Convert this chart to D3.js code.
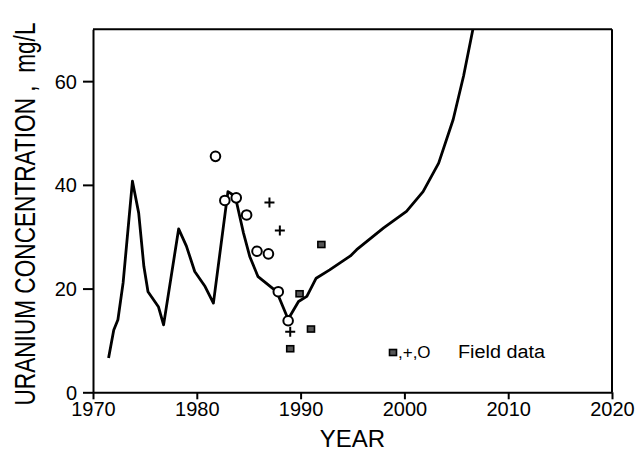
<!DOCTYPE html>
<html>
<head>
<meta charset="utf-8">
<script src="https://cdn.jsdelivr.net/npm/d3@7"></script>
<style>
  html, body { margin: 0; padding: 0; background: #fff; }
  svg { display: block; font-family: "Liberation Sans", Arial, Helvetica, sans-serif; }
</style>
</head>
<body>
<svg id="chart" width="640" height="453"></svg>
<script>
// ---- data ----
const modelYears  = [1971.5, 1972.0, 1972.4, 1972.9, 1973.8, 1974.4, 1974.9, 1975.3, 1976.3, 1976.8, 1978.25, 1979.0, 1979.8, 1980.8, 1981.6, 1983.0, 1983.7, 1984.5, 1985.1, 1985.9, 1987.7, 1988.8, 1989.8, 1990.6, 1991.5, 1992.8, 1994.8, 1995.4, 1998.0, 2000.2, 2001.8, 2003.3, 2004.7, 2005.7, 2006.6];
const modelValues = [6.6, 12.0, 14.0, 21.1, 40.7, 34.6, 24.3, 19.4, 16.5, 13.0, 31.5, 28.2, 23.3, 20.4, 17.2, 38.7, 37.8, 30.7, 26.2, 22.3, 19.4, 14.1, 17.5, 18.5, 22.0, 23.6, 26.3, 27.5, 31.7, 34.9, 38.7, 44.2, 52.6, 61.0, 70.0];

const circleYears  = [1981.8, 1982.7, 1983.8, 1984.8, 1985.8, 1986.9, 1987.85, 1988.8];
const circleValues = [45.5, 37.0, 37.5, 34.2, 27.2, 26.7, 19.4, 13.8];
const crossYears   = [1987.0, 1988.0, 1989.0];
const crossValues  = [36.6, 31.2, 11.7];
const squareYears  = [1989.9, 1991.0, 1989.0, 1992.0];
const squareValues = [19.0, 12.2, 8.4, 28.5];

const xTicks = [1970, 1980, 1990, 2000, 2010, 2020];
const yTicks = [0, 20, 40, 60];
const xTitle = "YEAR";
const yTitle = "URANIUM CONCENTRATION ,  mg/L";
const legendSymbols = ",+,O";
const legendLabel = "Field data";

// ---- layout ----
const svg = d3.select("#chart");
const x = d3.scaleLinear().domain([1970, 2020]).range([93, 612]);
const y = d3.scaleLinear().domain([0, 70]).range([392.3, 29.3]);

svg.append("defs").append("clipPath").attr("id", "plotclip")
  .append("rect")
  .attr("x", x(1970)).attr("y", y(70))
  .attr("width", x(2020) - x(1970)).attr("height", y(0) - y(70));

// frame: top and right
svg.append("line")
  .attr("x1", x(1970)).attr("x2", x(2020)).attr("y1", y(70)).attr("y2", y(70))
  .attr("stroke", "#000").attr("stroke-width", 2);
svg.append("line")
  .attr("x1", x(2020)).attr("x2", x(2020)).attr("y1", y(70)).attr("y2", y(0))
  .attr("stroke", "#000").attr("stroke-width", 2);

// axes
const xAxis = svg.append("g")
  .attr("transform", `translate(0,${y(0)})`)
  .call(d3.axisBottom(x).tickValues(xTicks).tickSize(7).tickSizeOuter(0).tickPadding(3).tickFormat(d3.format("d")));
const yAxis = svg.append("g")
  .attr("transform", `translate(${x(1970)},0)`)
  .call(d3.axisLeft(y).tickValues(yTicks).tickSize(10).tickSizeOuter(0).tickPadding(6));

[xAxis, yAxis].forEach(g => {
  g.select(".domain").attr("stroke", "#000").attr("stroke-width", 2);
  g.selectAll(".tick line").attr("stroke", "#000").attr("stroke-width", 2);
  g.selectAll(".tick text").attr("fill", "#000")
    .style("font-family", '"Liberation Sans", Arial, sans-serif')
    .style("font-size", "20px");
});
yAxis.selectAll(".tick text").attr("dy", "0.35em");

// titles
svg.append("text")
  .attr("x", (x(1970) + x(2020)) / 2).attr("y", 447)
  .attr("text-anchor", "middle")
  .style("font-size", "24px")
  .text(xTitle);

svg.append("text")
  .attr("transform", `translate(35,${214}) rotate(-90)`)
  .attr("text-anchor", "middle")
  .attr("textLength", 383).attr("lengthAdjust", "spacingAndGlyphs")
  .style("font-size", "29px")
  .style("white-space", "pre")
  .text(yTitle);

// model curve
const line = d3.line().x(d => x(d[0])).y(d => y(d[1])).curve(d3.curveLinear);
svg.append("path")
  .datum(modelYears.map((yr, i) => [yr, modelValues[i]]))
  .attr("clip-path", "url(#plotclip)")
  .attr("fill", "none").attr("stroke", "#000").attr("stroke-width", 2.8)
  .attr("stroke-linejoin", "round")
  .attr("d", line);

// field data: circles
svg.append("g").selectAll("circle")
  .data(circleYears.map((yr, i) => [yr, circleValues[i]]))
  .join("circle")
  .attr("cx", d => x(d[0])).attr("cy", d => y(d[1])).attr("r", 4.8)
  .attr("fill", "#fff").attr("stroke", "#000").attr("stroke-width", 2);

// crosses
svg.append("g").selectAll("path")
  .data(crossYears.map((yr, i) => [yr, crossValues[i]]))
  .join("path")
  .attr("transform", d => `translate(${x(d[0])},${y(d[1])})`)
  .attr("d", "M-5,0H5M0,-5V5")
  .attr("stroke", "#000").attr("stroke-width", 2);

// squares
svg.append("g").selectAll("rect")
  .data(squareYears.map((yr, i) => [yr, squareValues[i]]))
  .join("rect")
  .attr("x", d => x(d[0]) - 3.5).attr("y", d => y(d[1]) - 3)
  .attr("width", 7).attr("height", 6)
  .attr("fill", "#555").attr("stroke", "#000").attr("stroke-width", 1.6);

// legend
svg.append("rect")
  .attr("x", 389.5).attr("y", 349.5).attr("width", 7).attr("height", 6)
  .attr("fill", "#555").attr("stroke", "#000").attr("stroke-width", 1.6);
svg.append("text")
  .attr("x", 398).attr("y", 358)
  .style("font-size", "17px")
  .text(legendSymbols);
svg.append("text")
  .attr("x", 458).attr("y", 358)
  .attr("textLength", 87).attr("lengthAdjust", "spacingAndGlyphs")
  .style("font-size", "18px")
  .text(legendLabel);
</script>
</body>
</html>
